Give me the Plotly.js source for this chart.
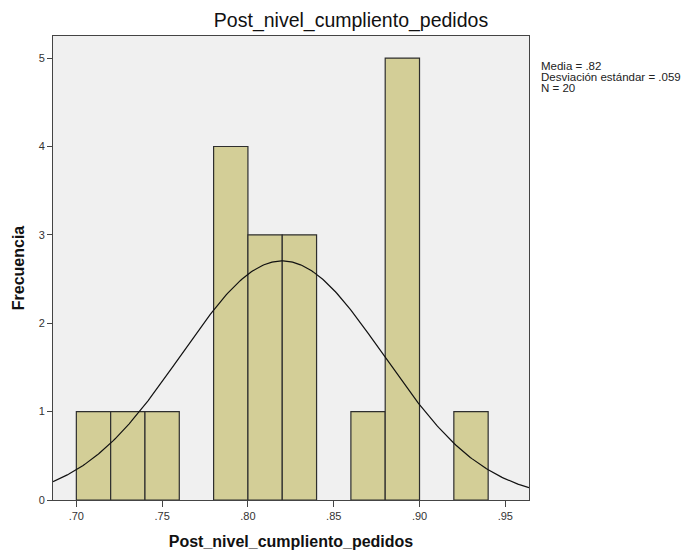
<!DOCTYPE html>
<html>
<head>
<meta charset="utf-8">
<script src="https://cdn.plot.ly/plotly-3.0.1.min.js"></script>
<style>
  html, body { margin: 0; padding: 0; background: #ffffff; }
  #chart { width: 689px; height: 551px; }
</style>
</head>
<body>
<div id="chart"></div>
<script>
// Histogram bins (width .02) and their counts
const binStarts = [0.70, 0.72, 0.74, 0.76, 0.78, 0.80, 0.82, 0.84, 0.86, 0.88, 0.90, 0.92];
const frequencies = [1, 1, 1, 0, 4, 3, 3, 0, 1, 5, 0, 1];
const binWidth = 0.02;

// Summary statistics shown beside the plot
const mean = 0.82;
const stdDev = 0.059;
const nCases = 20;
const statLines = ['Media = .82', 'Desviación estándar = .059', 'N = 20'];

// Axis ticks
const xTickVals = [0.70, 0.75, 0.80, 0.85, 0.90, 0.95];
const xTickText = ['.70', '.75', '.80', '.85', '.90', '.95'];
const yTickVals = [0, 1, 2, 3, 4, 5];

const xRange = [0.6864, 0.9638];
const yRange = [0, 5.25];

// Bars: only bins that hold cases
const barX = [], barY = [];
binStarts.forEach((s, i) => {
  if (frequencies[i] > 0) {
    barX.push(s + binWidth / 2);
    barY.push(frequencies[i]);
  }
});

// Normal curve scaled to the histogram (N * bin width * density)
const curveX = [], curveY = [];
const steps = 300;
for (let i = 0; i <= steps; i++) {
  const x = xRange[0] + (xRange[1] - xRange[0]) * i / steps;
  const z = (x - mean) / stdDev;
  curveX.push(x);
  curveY.push(nCases * binWidth * Math.exp(-0.5 * z * z) / (stdDev * Math.sqrt(2 * Math.PI)));
}

const fontFamily = 'Liberation Sans, Arial, sans-serif';

// Plot box in pixels
const W = 689, H = 551;
const M = { l: 53, r: 160, t: 36, b: 51 };
const plotH = H - M.t - M.b;
const plotW = W - M.l - M.r;

const traces = [
  {
    type: 'bar',
    x: barX,
    y: barY,
    width: binWidth,
    marker: { color: '#d3ce97', line: { color: '#2e2e2e', width: 1.2 } },
    hoverinfo: 'x+y'
  },
  {
    type: 'scatter',
    mode: 'lines',
    x: curveX,
    y: curveY,
    line: { color: '#111111', width: 1.2 },
    hoverinfo: 'skip'
  }
];

// Stats text: three closely spaced lines to the right of the plot
const statAnnotations = statLines.map((t, i) => ({
  xref: 'paper', yref: 'paper',
  x: (540 - M.l) / plotW,
  y: (H - M.b - (66 + 11 * i)) / plotH,
  xanchor: 'left', yanchor: 'middle',
  align: 'left',
  showarrow: false,
  borderpad: 0,
  text: t,
  font: { family: fontFamily, size: 11.5, color: '#222222' }
}));

const layout = {
  width: W,
  height: H,
  margin: M,
  paper_bgcolor: '#ffffff',
  plot_bgcolor: '#f0f0f0',
  showlegend: false,
  bargap: 0,
  font: { family: fontFamily, color: '#222222', size: 11 },
  title: {
    text: 'Post_nivel_cumpliento_pedidos',
    font: { family: fontFamily, size: 19.5, color: '#111111' },
    x: 351 / W,
    xanchor: 'center',
    y: 1 - 20 / H,
    yanchor: 'middle'
  },
  xaxis: {
    range: xRange,
    tickvals: xTickVals,
    ticktext: xTickText,
    ticks: 'outside',
    ticklen: 6,
    tickcolor: '#444444',
    tickfont: { family: fontFamily, size: 11, color: '#333333' },
    showgrid: false,
    zeroline: false,
    showline: true,
    linecolor: '#444444',
    linewidth: 1,
    mirror: true,
    title: {
      text: 'Post_nivel_cumpliento_pedidos',
      font: { family: fontFamily, size: 16, color: '#111111', weight: 'bold' },
      standoff: 14
    }
  },
  yaxis: {
    range: yRange,
    tickvals: yTickVals,
    ticks: 'outside',
    ticklen: 5,
    tickcolor: '#444444',
    tickfont: { family: fontFamily, size: 11, color: '#333333' },
    showgrid: false,
    zeroline: false,
    showline: true,
    linecolor: '#444444',
    linewidth: 1,
    mirror: true,
    title: {
      text: 'Frecuencia',
      font: { family: fontFamily, size: 16, color: '#111111', weight: 'bold' },
      standoff: 10
    }
  },
  annotations: statAnnotations
};

Plotly.newPlot('chart', traces, layout, { displayModeBar: false, staticPlot: true });
</script>
</body>
</html>
